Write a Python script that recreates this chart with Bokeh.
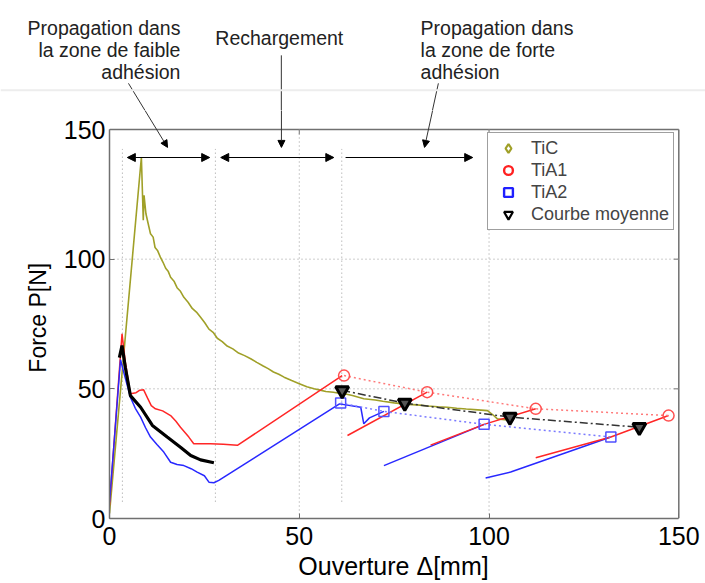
from bokeh.plotting import figure
from bokeh.models import (Range1d, Label, Arrow, NormalHead, Legend, LegendItem,
                          FixedTicker, Span)
from bokeh.layouts import column
from bokeh.embed import file_html
from bokeh.resources import INLINE

# ---------------- data ----------------
tic_x = [0, 8.4, 8.9, 9.1, 9.6, 10.3, 10.8, 11.5, 12.0, 12.7, 13.4, 14.1, 14.8, 15.5, 16.1,
         17.0, 17.8, 18.7, 19.6, 20.7, 21.8, 22.9, 24.0, 25.1, 26.2, 27.3, 28.4, 29.7, 31.0,
         32.5, 34.0, 35.6, 37.2, 38.8, 40.5, 41.8, 43.2, 44.6, 46.0, 48.0, 50.0, 52.0, 53.9,
         55.5, 57.0, 59.0, 60.9, 62.5, 64.0, 67.0, 70.0, 72.0, 75.0, 78.5, 81.0, 84.0, 86.5,
         89.0, 91.5, 94.0, 97.0, 99.6, 101.0, 102.2, 104.8]
tic_y = [2, 139.3, 115, 124.6, 117.5, 113.0, 109.8, 108.5, 104.5, 103.2, 100.8, 98.8, 96.5, 95.2, 93.0,
         91.5, 89.0, 87.6, 85.3, 83.4, 81.0, 79.6, 77.6, 75.5, 73.0, 71.8, 69.5, 68.2, 66.5,
         65.4, 63.8, 62.8, 61.6, 60.2, 58.8, 57.8, 56.5, 55.6, 54.5, 53.2, 52.0, 50.8, 50.0,
         49.5, 49.0, 48.7, 48.2, 47.9, 47.4, 46.2, 45.7, 45.2, 44.6, 44.0, 43.8, 43.4, 43.1,
         42.9, 42.5, 42.2, 41.9, 41.6, 40.0, 38.4, 38.0]

tia1_x = [0, 3.3, 4.2, 5.5, 7.0, 8.0, 9.0, 10.0, 11.0, 12.1, 14.0, 16.1, 17.5, 18.7, 20.0,
          20.9, 22.2, 24.0, 26.6, 30.0, 33.7, 61.3]
tia1_y = [5, 71.2, 60, 48.1, 48.5, 49.5, 49.6, 46.5, 43.5, 42.3, 41.5, 39.7, 37.5, 35.2, 33.0,
          31.4, 28.8, 28.8, 28.8, 28.6, 28.2, 55.1]
tia1_r2_x = [62.7, 83.7]
tia1_r2_y = [32.0, 48.7]
tia1_r3_x = [84.6, 98.7, 112.3]
tia1_r3_y = [28.3, 36.3, 42.3]
tia1_r4_x = [112.3, 132.1, 147.3]
tia1_r4_y = [23.4, 31.4, 39.7]
tia1_mk_x = [61.8, 83.7, 112.3, 147.3]
tia1_mk_y = [55.1, 48.7, 42.3, 39.7]

tia2_x = [0, 2.9, 4.0, 5.5, 6.8, 8.2, 9.5, 10.8, 12.5, 14.3, 16.1, 17.8, 19.6, 21.5, 23.1,
          25.0, 26.2, 27.5, 28.8, 60.6, 66.2, 67.0, 68.5, 72.3]
tia2_y = [6.3, 61.2, 55, 46.8, 42.5, 39.1, 35.0, 31.4, 28.5, 25.6, 21.7, 20.8, 20.4, 19.2, 17.9,
          16.5, 14.0, 13.8, 14.7, 44.2, 42.9, 36.5, 38.8, 41.3]
tia2_r2_x = [72.3, 98.7]
tia2_r2_y = [20.4, 36.3]
tia2_r3_x = [99.1, 105.7, 132.1]
tia2_r3_y = [15.6, 17.9, 31.4]
tia2_mk_x = [60.9, 72.3, 98.7, 132.1]
tia2_mk_y = [44.5, 41.3, 36.3, 31.4]

mean_x = [2.6, 3.3, 4.2, 5.5, 8.2, 11.3, 15.2, 18.7, 21.4, 24.0, 27.5]
mean_y = [62, 66.7, 58, 47.4, 42.9, 35.9, 31.4, 27.5, 24.3, 22.6, 21.5]
mean_mk_x = [61.3, 77.8, 105.5, 139.6]
mean_mk_y = [49.4, 44.5, 39.1, 35.2]

zone_bounds = [3.4, 27.9, 61.2]
zone_arrow_y = 139.2
zone_arrows = [(4.7, 26.4, True), (29.3, 59.1, True), (62.2, 95.7, False)]

ticks = [0, 50, 100, 150]
grid_ticks = [50, 100]
AX_MIN, AX_MAX = 0, 150

annot_lines = [
    ("Propagation dans", 18.7, 189.0, "right"),
    ("la zone de faible", 18.7, 180.5, "right"),
    ("adhésion", 18.7, 172.0, "right"),
    ("Rechargement", 27.9, 185.1, "left"),
    ("Propagation dans", 82.0, 189.0, "left"),
    ("la zone de forte", 82.0, 180.5, "left"),
    ("adhésion", 82.0, 172.0, "left"),
]
ptr_x0 = [5.0, 45.3, 86.7]
ptr_y0 = [167.8, 178.6, 167.8]
ptr_x1 = [15.3, 45.3, 83.0]
ptr_y1 = [143.1, 143.1, 143.1]
separator_y = 165.1

# ---------------- styles ----------------
OLIVE = "#a0a028"
RED = "#ff2626"
BLUE = "#2828ff"
FONT = "Liberation Sans"
FRAME = "#707070"
TOP_H = 110
# shared data<->pixel mapping (x: 3.7933 px/unit from px 109; y: 2.5933 px/unit from px 518)
XS, X0PX = 569 / 150, 109
YS, Y0PX = 389 / 150, 518

# ---------------- top strip: annotation texts ----------------
top = figure(width=705, height=TOP_H, output_backend="svg", toolbar_location=None,
             x_range=Range1d(-X0PX / XS, (705 - X0PX) / XS),
             y_range=Range1d((Y0PX - TOP_H) / YS, Y0PX / YS),
             x_axis_type=None, y_axis_type=None, frame_align=False,
             min_border_left=0, min_border_right=0, min_border_top=0, min_border_bottom=0)
top.outline_line_color = None
top.grid.visible = False
top.background_fill_color = "white"
top.border_fill_color = "white"
top.add_layout(Span(location=separator_y, dimension="width", line_color="#ededed", line_width=2))
top.segment(x0=ptr_x0, y0=ptr_y0, x1=ptr_x1, y1=ptr_y1, line_color="#333333", line_width=1)
for txt, x, y, al in annot_lines:
    top.add_layout(Label(x=x, y=y, text=txt, text_align=al, text_baseline="alphabetic",
                         text_font=FONT, text_font_size="19.5px", text_color="#222222"))

# ---------------- main plot ----------------
p = figure(width=705, height=583 - TOP_H, x_range=Range1d(0, 151.5),
           y_range=Range1d(0, (Y0PX - TOP_H) / YS), frame_align=False,
           output_backend="svg", toolbar_location=None,
           min_border_left=109, min_border_right=21, min_border_top=0, min_border_bottom=65)
p.background_fill_color = "white"
p.border_fill_color = "white"
p.outline_line_color = None
p.xgrid.visible = False
p.ygrid.visible = False

for ax in (p.xaxis[0], p.yaxis[0]):
    ax.ticker = FixedTicker(ticks=ticks)
    ax.bounds = (AX_MIN, AX_MAX)
    ax.minor_tick_line_color = None
    ax.major_tick_in = 5
    ax.major_tick_out = 0
    ax.major_tick_line_color = FRAME
    ax.axis_line_color = FRAME
    ax.axis_line_width = 1.5
    ax.major_label_text_font = FONT
    ax.major_label_text_font_size = "25px"
    ax.major_label_text_color = "black"
    ax.axis_label_text_font = FONT
    ax.axis_label_text_font_style = "normal"
    ax.axis_label_text_color = "black"

p.xaxis.axis_label = "Ouverture  Δ[mm]"
p.xaxis.axis_label_text_font_size = "25px"
p.xaxis.major_label_standoff = 8
p.xaxis.axis_label_standoff = 4
p.yaxis.axis_label = "Force  P[N]"
p.yaxis.axis_label_text_font_size = "23px"
p.yaxis.major_label_standoff = 4
p.yaxis.axis_label_standoff = 10

# box top & right edges, with inward ticks
p.segment(x0=[AX_MIN, AX_MAX], y0=[AX_MAX, AX_MIN], x1=[AX_MAX, AX_MAX], y1=[AX_MAX, AX_MAX],
          line_color=FRAME, line_width=1.5)
p.segment(x0=grid_ticks, y0=[AX_MAX] * 2, x1=grid_ticks, y1=[AX_MAX - 1.9] * 2,
          line_color=FRAME, line_width=1)
p.segment(x0=[AX_MAX] * 2, y0=grid_ticks, x1=[AX_MAX - 1.3] * 2, y1=grid_ticks,
          line_color=FRAME, line_width=1)

# dotted grid
p.segment(x0=grid_ticks, y0=[AX_MIN] * 2, x1=grid_ticks, y1=[AX_MAX] * 2,
          line_color="#9a9a9a", line_dash="1 3", line_width=1)
p.segment(x0=[AX_MIN] * 2, y0=grid_ticks, x1=[AX_MAX] * 2, y1=grid_ticks,
          line_color="#9a9a9a", line_dash="1 3", line_width=1)

# zone boundaries
p.segment(x0=zone_bounds, y0=[6.5] * 3, x1=zone_bounds, y1=[142.5] * 3,
          line_color="#9a9a9a", line_dash="1 3", line_width=1)

# curves
p.line(tic_x, tic_y, line_color=OLIVE, line_width=1.6)
p.line(tia1_x, tia1_y, line_color=RED, line_width=1.5)
p.line(tia1_r2_x, tia1_r2_y, line_color=RED, line_width=1.5)
p.line(tia2_x, tia2_y, line_color=BLUE, line_width=1.5)
p.line(tia2_r2_x, tia2_r2_y, line_color=BLUE, line_width=1.5)
p.line(tia2_r3_x, tia2_r3_y, line_color=BLUE, line_width=1.5)
p.line(tia1_r3_x, tia1_r3_y, line_color=RED, line_width=1.5)
p.line(tia1_r4_x, tia1_r4_y, line_color=RED, line_width=1.5)
p.line(mean_x, mean_y, line_color="black", line_width=3.2)

p.line(tia1_mk_x, tia1_mk_y, line_color="#ff7a7a", line_dash="2 3", line_width=1.5)
p.line(tia2_mk_x, tia2_mk_y, line_color="#7a7aff", line_dash="2 3", line_width=1.5)
p.line(mean_mk_x, mean_mk_y, line_color="#333333", line_dash="8 3 2 3", line_width=1.5)

p.scatter(tia1_mk_x, tia1_mk_y, marker="circle", size=11, line_color="#ff5050",
          fill_color=None, line_width=1.5)
p.scatter(tia2_mk_x, tia2_mk_y, marker="square", size=10, line_color="#5050ff",
          fill_color=None, line_width=1.5)
p.scatter(mean_mk_x, mean_mk_y, marker="inverted_triangle", size=13,
          line_color="black", fill_color="#555555", line_width=3)

# legend-only glyphs (hidden renderers, drawn only in the legend)
lg_tic = p.scatter(tic_x[1:2], tic_y[1:2], marker="diamond", line_color=OLIVE,
                   fill_color=None, line_width=2.2, visible=False)
lg_red = p.scatter(tia1_mk_x[:1], tia1_mk_y[:1], marker="circle", line_color="#ff2020",
                   fill_color=None, line_width=2.4, visible=False)
lg_blue = p.scatter(tia2_mk_x[:1], tia2_mk_y[:1], marker="square", line_color="#2020ff",
                    fill_color=None, line_width=2.4, visible=False)
lg_mean = p.scatter(mean_mk_x[:1], mean_mk_y[:1], marker="inverted_triangle",
                    line_color="black", fill_color=None, line_width=2.2, visible=False)

legend = Legend(items=[LegendItem(label="TiC", renderers=[lg_tic]),
                       LegendItem(label="TiA1", renderers=[lg_red]),
                       LegendItem(label="TiA2", renderers=[lg_blue]),
                       LegendItem(label="Courbe moyenne", renderers=[lg_mean])],
                location=(378, 288), padding=4, spacing=0, glyph_width=32, glyph_height=22,
                label_height=20, label_standoff=7, margin=0,
                label_text_font=FONT, label_text_font_size="18px",
                border_line_color="#404040", border_line_width=1,
                background_fill_color="white", background_fill_alpha=1,
                inactive_fill_alpha=0)
p.add_layout(legend)

# zone arrows
for x0, x1, both in zone_arrows:
    p.add_layout(Arrow(x_start=x0, y_start=zone_arrow_y, x_end=x1, y_end=zone_arrow_y,
                       line_color="black", line_width=1,
                       start=NormalHead(size=8, fill_color="black", line_color="black") if both else None,
                       end=NormalHead(size=8, fill_color="black", line_color="black")))

# lower part of the annotation pointers
for xa, ya, xb, yb in zip(ptr_x0, ptr_y0, ptr_x1, ptr_y1):
    p.add_layout(Arrow(x_start=xa, y_start=ya, x_end=xb, y_end=yb,
                       line_color="#333333", line_width=1,
                       end=NormalHead(size=7, fill_color="black", line_color="black")))

layout = column(top, p, spacing=0)
open("out.html", "w").write(file_html(layout, INLINE))
